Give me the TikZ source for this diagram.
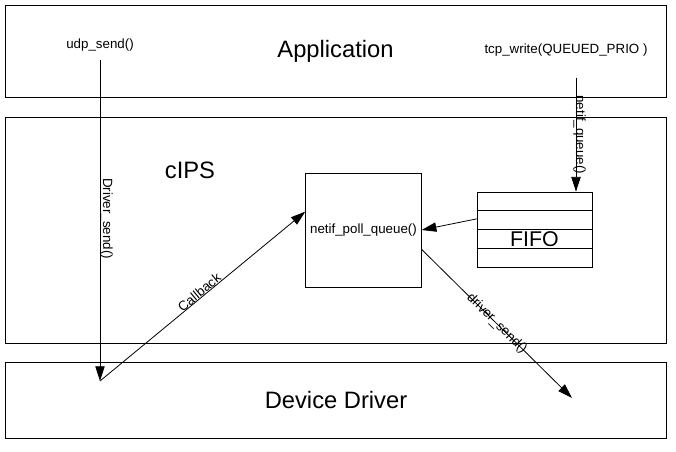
\documentclass[tikz,border=0pt]{standalone}
\usepackage{fontspec}
\setmainfont{Liberation Sans}
\usetikzlibrary{arrows.meta,calc}

\begin{document}
\begin{tikzpicture}[x=0.75pt,y=-0.75pt,line width=0.6pt,
	arr/.style={-{Triangle[length=11pt,width=7pt]}},
	big/.style={font=\fontsize{17.8}{20}\selectfont},
	small/.style={font=\fontsize{10}{12}\selectfont}]
	\useasboundingbox (0,0) rectangle (676,452);
	% layers
	\draw (5,5) rectangle (666,97);
	\draw (5,117) rectangle (666,343);
	\draw (5,362) rectangle (666,438);
	\node[big] (app) at (335.5,51) {Application};
	\node[big] (cips) at (190,170) {cIPS};
	\node[big] (dev) at (336,400) {Device Driver};
	\node[small] (udp) at (100,45) {udp\_send()};
	\node[small] (tcp) at (566,50) {tcp\_write(QUEUED\_PRIO )};
	% poll box and queue
	\node[draw,small,minimum width=84.75pt,minimum height=85.5pt] (netif) at (363.5,230) {netif\_poll\_queue()};
	\node[draw,minimum width=86.25pt,minimum height=56.25pt] (fifo) at (534.5,229.5) {};
	\foreach \k in {1,2,3}
	{
		\draw ($(fifo.north west)!\k/4!(fifo.south west)$) -- ($(fifo.north east)!\k/4!(fifo.south east)$);
	}
	\node[font=\fontsize{16}{18}\selectfont] (fifolbl) at ($(fifo.south)!0.375!(fifo.north)$) {FIFO};
	% calls
	\coordinate (ddtip) at (100,381);
	\coordinate (qin) at (576,78);
	\coordinate (drvtip) at (572,398);
	\draw[arr,shorten <=3pt] (udp.south) -- (ddtip)
		node[midway,small,rotate=-90,anchor=south,inner sep=0pt] (drvlbl) {Driver\_send()};
	\draw[arr] (ddtip) -- ($(netif.north west)!0.34!(netif.south west)$)
		node[midway,sloped,above,small,inner sep=0pt] (cblbl) {Callback};
	\draw[arr] (qin) -- (qin |- fifo.north)
		node[midway,small,rotate=-90,anchor=base,inner sep=0pt] (qlbl) {netif\_queue()};
	\draw[arr] ($(fifo.north west)!0.36!(fifo.south west)$) -- (netif.east);
	\draw[arr] ($(netif.north east)!0.67!(netif.south east)$) -- (drvtip)
		node[midway,sloped,small,inner sep=0pt] (dslbl) {driver\_send()};
\end{tikzpicture}
\end{document}
